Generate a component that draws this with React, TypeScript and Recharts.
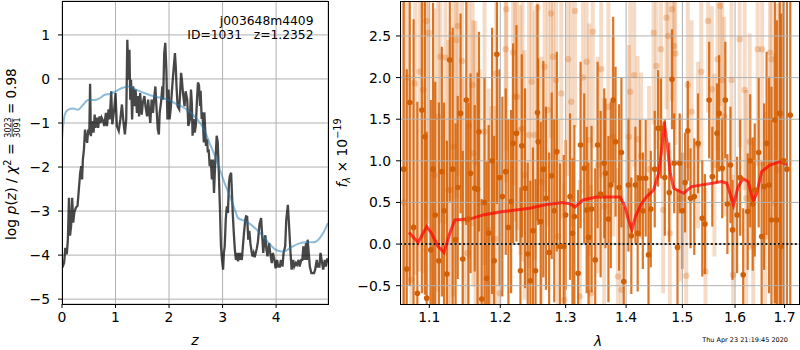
import {
  CartesianGrid,
  ComposedChart,
  ErrorBar,
  Line,
  ReferenceLine,
  Scatter,
  XAxis,
  YAxis,
} from "recharts";

// ---- left panel: log p(z) ----
const zTicks = [0, 1, 2, 3, 4];
const logTicks = [-5, -4, -3, -2, -1, 0, 1];

// [z, log p(z)]
const logPz: [number, number][] = [
  [0.01, -4.28], [0.04, -4.17], [0.06, -3.86], [0.075, -3.86], [0.09, -3.98], [0.11, -3.64],
  [0.13, -2.7], [0.15, -3.56], [0.17, -3.34], [0.19, -2.7], [0.21, -3.26], [0.23, -3.03],
  [0.26, -2.92], [0.29, -2.88], [0.31, -2.58], [0.34, -2.13], [0.36, -1.98], [0.375, -2.28],
  [0.39, -1.83], [0.41, -1.6], [0.43, -1.15], [0.45, -1.34], [0.47, -1.45], [0.49, -1.15],
  [0.51, -1.26], [0.525, -0.11], [0.54, -1.3], [0.56, -0.96], [0.59, -1.22], [0.61, -0.81],
  [0.625, -1.11], [0.65, -0.88], [0.675, -1.11], [0.7, -0.85], [0.72, -1.0], [0.74, -0.88],
  [0.77, -0.96], [0.79, -1.07], [0.82, -0.77], [0.84, -1.07], [0.87, -0.69], [0.89, -0.92],
  [0.92, -0.28], [0.94, -1.03], [0.975, -0.69], [1.0, -0.32], [1.025, -1.07], [1.06, -1.18],
  [1.09, -0.92], [1.12, -0.58], [1.15, -1.0], [1.175, -1.26], [1.2, -0.92], [1.22, 0.89],
  [1.245, -0.02], [1.26, 0.66], [1.275, -0.47], [1.29, -0.02], [1.31, -0.92], [1.33, -0.17],
  [1.36, -0.62], [1.375, -0.24], [1.4, -0.77], [1.42, -0.39], [1.44, -0.85], [1.46, -0.32],
  [1.49, -0.81], [1.51, -0.54], [1.54, -0.39], [1.56, -0.62], [1.59, -0.85], [1.61, -0.47],
  [1.625, -0.69], [1.65, -1.0], [1.675, -0.47], [1.7, -0.77], [1.725, -0.39], [1.745, -0.17],
  [1.76, -0.54], [1.79, -1.15], [1.81, -1.26], [1.825, -0.77], [1.85, -0.54], [1.875, -0.17],
  [1.89, -0.47], [1.91, 0.59], [1.93, 0.82], [1.95, 0.21], [1.97, -0.92], [1.99, -0.24],
  [2.01, -0.92], [2.03, -0.69], [2.06, -0.17], [2.08, 0.14], [2.11, 0.59], [2.125, 0.29],
  [2.14, -0.17], [2.16, -0.62], [2.19, -0.69], [2.21, -0.24], [2.225, 0.14], [2.24, -0.02],
  [2.26, -0.32], [2.29, -0.62], [2.31, -0.28], [2.34, -0.47], [2.36, -1.07], [2.39, -0.92],
  [2.41, -0.24], [2.425, -0.53], [2.44, -1.29], [2.46, -0.91], [2.48, -1.22], [2.5, -1.06],
  [2.52, -0.53], [2.54, -0.08], [2.56, -0.15], [2.58, -0.61], [2.59, -0.27], [2.61, -0.91],
  [2.625, -0.76], [2.65, -1.44], [2.66, -0.76], [2.69, -1.52], [2.71, -1.37], [2.725, -1.67],
  [2.74, -1.6], [2.76, -1.98], [2.78, -1.83], [2.8, -2.28], [2.82, -1.83], [2.84, -2.59],
  [2.86, -1.98], [2.875, -1.67], [2.89, -1.29], [2.91, -1.44], [2.93, -2.13], [2.95, -2.89],
  [2.97, -3.8], [2.99, -4.11], [3.01, -4.33], [3.025, -3.95], [3.04, -3.8], [3.06, -3.19],
  [3.08, -2.89], [3.1, -3.04], [3.12, -2.36], [3.135, -2.21], [3.16, -2.13], [3.175, -2.59],
  [3.19, -3.04], [3.21, -3.5], [3.23, -3.88], [3.25, -4.11], [3.27, -3.95], [3.29, -4.14],
  [3.31, -3.95], [3.325, -4.11], [3.34, -3.95], [3.36, -4.11], [3.38, -3.8], [3.4, -3.5],
  [3.425, -3.19], [3.44, -3.12], [3.46, -3.13], [3.48, -3.65], [3.5, -3.45], [3.52, -3.73],
  [3.54, -3.9], [3.56, -4.03], [3.58, -3.95], [3.6, -4.05], [3.62, -3.95], [3.64, -3.85],
  [3.66, -3.7], [3.69, -3.3], [3.72, -3.16], [3.74, -3.55], [3.76, -3.95], [3.78, -3.7],
  [3.8, -3.55], [3.82, -3.88], [3.84, -4.03], [3.87, -3.73], [3.89, -3.95], [3.92, -4.18],
  [3.94, -3.95], [3.97, -4.11], [3.99, -4.3], [4.02, -4.11], [4.04, -4.26], [4.07, -4.26],
  [4.09, -4.11], [4.12, -4.26], [4.14, -3.95], [4.17, -3.8], [4.19, -3.2], [4.22, -2.86],
  [4.24, -3.27], [4.27, -3.95], [4.29, -4.33], [4.32, -4.11], [4.34, -4.26], [4.37, -4.18],
  [4.39, -4.22], [4.42, -4.11], [4.44, -4.26], [4.47, -4.11], [4.49, -4.11], [4.51, -3.8],
  [4.53, -4.11], [4.56, -3.73], [4.575, -4.11], [4.59, -3.65], [4.61, -3.95], [4.63, -4.26],
  [4.66, -4.41], [4.68, -4.41], [4.71, -4.41], [4.73, -4.33], [4.76, -4.11], [4.78, -4.26],
  [4.81, -4.26], [4.83, -3.95], [4.86, -4.18], [4.88, -4.33], [4.91, -4.11], [4.93, -4.26],
  [4.96, -4.07],
];

// [z, chi2 curve] smooth blue line
const chi2Curve: [number, number][] = [
  [0, -1.38], [0.02, -1.08], [0.05, -0.82], [0.11, -0.7], [0.21, -0.67], [0.3, -0.7],
  [0.39, -0.59], [0.49, -0.48], [0.61, -0.48], [0.7, -0.44], [0.8, -0.36], [0.89, -0.34],
  [0.99, -0.29], [1.11, -0.21], [1.235, -0.17], [1.36, -0.23], [1.52, -0.31], [1.7, -0.39],
  [1.89, -0.44], [2.01, -0.49], [2.14, -0.57], [2.3, -0.67], [2.45, -0.82], [2.58, -1.0],
  [2.67, -1.19], [2.76, -1.46], [2.86, -1.76], [2.95, -2.06], [3.04, -2.37], [3.14, -2.67],
  [3.23, -2.97], [3.29, -3.16], [3.45, -3.24], [3.61, -3.39], [3.76, -3.58], [3.89, -3.76],
  [4.01, -3.89], [4.14, -3.92], [4.26, -3.84], [4.42, -3.74], [4.57, -3.7], [4.7, -3.71],
  [4.79, -3.65], [4.88, -3.5], [4.97, -3.27],
];

// ---- right panel: spectrum ----
const lamTicks = [1.1, 1.2, 1.3, 1.4, 1.5, 1.6, 1.7];
const fluxTicks = [-0.5, 0, 0.5, 1, 1.5, 2, 2.5];

// [lambda, flux, error] first beam (solid)
const beamA: [number, number, number][] = [
  [1.066, 0.9, 2.6], [1.07, -0.3, 2.4], [1.074, 1.7, 2.2], [1.079, 0.2, 2.5], [1.084, -0.59, 2.3],
  [1.09, 1.61, 2.2], [1.094, 1.29, 1.9], [1.0965, -0.65, 2.0], [1.102, -0.07, 1.8], [1.105, 0.9, 2.0],
  [1.108, 0.35, 1.6], [1.113, -0.2, 1.9], [1.117, 0.87, 1.5], [1.12, 0.4, 1.3], [1.124, -0.36, 1.6],
  [1.128, 2.21, 1.7], [1.132, 0.9, 1.7], [1.136, 0.05, 1.4], [1.139, 0.68, 1.1], [1.143, 1.57, 1.2],
  [1.146, -0.18, 1.3], [1.151, 1.73, 1.5], [1.154, 0.3, 1.4], [1.157, 0.85, 1.2], [1.163, 0.67, 1.0],
  [1.167, 0.66, 1.4], [1.169, 1.35, 1.2], [1.173, -0.66, 1.2], [1.177, 0.5, 1.5], [1.18, -0.41, 1.4],
  [1.183, 0.13, 1.3], [1.188, 1.0, 1.6], [1.191, -0.2, 1.5], [1.195, 2.28, 1.8], [1.199, 0.8, 1.3],
  [1.203, 0.57, 1.2], [1.208, 0.87, 1.0], [1.212, 0.2, 1.3], [1.216, 0.51, 1.1], [1.219, 1.21, 1.2],
  [1.224, 1.33, 1.3], [1.23, -0.32, 1.0], [1.232, 1.18, 1.1], [1.237, 0.67, 1.2], [1.241, -0.12, 1.1],
  [1.245, -0.44, 1.2], [1.249, 0.16, 1.0], [1.253, -0.32, 1.1], [1.256, 1.58, 1.3], [1.257, 1.23, 1.0],
  [1.261, 0.27, 1.2], [1.265, 0.9, 1.3], [1.269, 0.55, 1.1], [1.274, -0.1, 1.2], [1.278, 0.82, 1.0],
  [1.282, 0.4, 1.1], [1.286, 1.11, 1.2], [1.291, -0.03, 1.0], [1.297, -0.03, 1.1], [1.3, 0.35, 0.9],
  [1.307, 0.57, 1.0], [1.311, 0.13, 0.9], [1.314, 0.33, 1.1], [1.32, -0.35, 1.0], [1.324, 1.19, 1.0],
  [1.33, 0.91, 0.9], [1.334, 0.41, 1.0], [1.337, 0.08, 0.9], [1.342, 0.42, 1.0], [1.348, -0.19, 1.1],
  [1.352, 1.19, 1.0], [1.357, 0.6, 1.0], [1.363, 0.97, 0.9], [1.365, 0.85, 0.9], [1.37, 0.3, 1.0],
  [1.374, 0.71, 1.0], [1.378, 1.73, 1.0], [1.382, 1.23, 0.9], [1.388, 0.68, 1.0], [1.392, 1.1, 0.9],
  [1.396, -0.45, 0.9], [1.404, 0.71, 0.8], [1.409, 0.1, 0.7], [1.416, 0.71, 0.7], [1.42, 0.13, 0.7],
  [1.424, 0.79, 0.7], [1.429, 0.4, 0.7], [1.434, 0.79, 0.7], [1.439, -0.13, 0.8], [1.443, 0.42, 0.7],
  [1.45, 0.9, 0.7], [1.456, 1.39, 0.7], [1.461, 1.39, 0.6], [1.468, 0.8, 0.7], [1.476, 0.62, 0.6],
  [1.481, 1.98, 0.6], [1.485, 0.97, 0.6], [1.491, -0.04, 0.7], [1.495, 0.97, 0.6], [1.5, 0.4, 0.7],
  [1.505, 0.74, 0.6], [1.51, 1.36, 0.6], [1.515, 0.55, 0.6], [1.522, 0.57, 0.7], [1.529, 1.21, 0.6],
  [1.537, 0.31, 0.7], [1.542, 0.24, 0.6], [1.55, 1.73, 0.7], [1.556, 0.81, 0.6], [1.565, 1.33, 0.6],
  [1.569, 1.57, 0.7], [1.575, 0.91, 0.6], [1.581, 1.73, 0.7], [1.585, 0.48, 0.6], [1.591, 0.95, 0.7],
  [1.595, 0.17, 0.6], [1.604, 0.35, 0.7], [1.61, 0.8, 0.7], [1.616, -0.37, 0.8], [1.625, 0.39, 0.7],
  [1.63, 1.0, 0.8], [1.635, 0.48, 0.8], [1.639, 0.65, 0.8], [1.647, 1.1, 0.9], [1.653, 0.09, 0.9],
  [1.658, 0.69, 1.0], [1.663, 1.21, 1.1], [1.668, 0.71, 1.3], [1.673, 0.29, 1.6], [1.68, 1.49, 2.2],
  [1.684, 0.29, 2.4], [1.69, 1.57, 2.6], [1.693, -0.03, 2.8], [1.698, 1.0, 2.8], [1.705, 0.9, 2.8],
  [1.712, 1.55, 2.9],
];

// [lambda, flux, error] second beam (faint)
const beamB: [number, number, number][] = [
  [1.066, 0.5, 2.8], [1.071, 2.0, 2.5], [1.076, -0.43, 2.4], [1.081, 1.93, 2.3], [1.087, 2.07, 2.4],
  [1.092, 1.85, 2.2], [1.096, 2.68, 2.4], [1.099, 2.54, 2.3], [1.107, 0.83, 2.0], [1.112, 1.53, 2.1],
  [1.115, 2.25, 2.0], [1.122, 2.24, 2.0], [1.126, 0.65, 1.8], [1.129, 0.65, 1.9], [1.133, 1.17, 1.8],
  [1.137, 2.45, 1.9], [1.139, 2.62, 1.8], [1.145, 2.2, 1.7], [1.147, 0.29, 1.7], [1.152, -0.11, 1.8],
  [1.155, 1.42, 1.6], [1.16, 1.91, 1.7], [1.161, 1.09, 1.6], [1.164, 0.98, 1.7], [1.17, 0.5, 1.6],
  [1.177, 1.35, 1.6], [1.183, 0.17, 1.7], [1.187, 0.06, 1.6], [1.193, 0.06, 1.6], [1.194, 2.05, 1.7],
  [1.199, -0.59, 1.6], [1.208, 2.34, 1.6], [1.209, 2.82, 1.7], [1.219, 2.3, 1.6], [1.222, 1.77, 1.5],
  [1.225, 1.77, 1.6], [1.23, 1.37, 1.5], [1.233, 1.39, 1.6], [1.236, 0.83, 1.5], [1.243, 1.31, 1.6],
  [1.247, 1.95, 1.5], [1.252, 1.31, 1.5], [1.256, 2.84, 1.6], [1.262, 0.75, 1.5], [1.267, 2.13, 1.5],
  [1.272, 1.61, 1.4], [1.277, 2.77, 1.5], [1.28, 2.25, 1.4], [1.285, 1.97, 1.5], [1.288, 0.09, 1.4],
  [1.293, 1.81, 1.5], [1.298, -0.67, 1.4], [1.304, 2.22, 1.4], [1.309, 1.71, 1.5], [1.315, 2.8, 1.4],
  [1.323, -0.63, 1.4], [1.328, 2.0, 1.4], [1.334, 2.19, 1.3], [1.338, 1.25, 1.4], [1.341, -0.59, 1.3],
  [1.344, 2.55, 1.4], [1.352, 0.95, 1.3], [1.358, 2.1, 1.3], [1.363, 0.45, 1.3], [1.37, 1.65, 1.3],
  [1.378, 1.29, 1.2], [1.386, -0.39, 1.3], [1.392, -0.55, 1.2], [1.405, 1.29, 1.1], [1.407, 1.83, 1.1],
  [1.414, 2.03, 1.1], [1.42, 1.26, 1.0], [1.426, 1.06, 1.0], [1.44, 0.9, 1.0], [1.448, 2.54, 1.1],
  [1.453, 2.14, 1.0], [1.461, 2.34, 1.1], [1.465, 0.41, 1.0], [1.471, 2.72, 1.1], [1.474, 2.5, 1.0],
  [1.477, 0.13, 1.0], [1.481, 2.82, 1.1], [1.485, 2.38, 1.0], [1.487, 2.29, 1.1], [1.497, 0.55, 1.0],
  [1.507, -0.38, 1.1], [1.51, 1.91, 1.0], [1.517, 1.59, 1.1], [1.529, 1.19, 1.0], [1.535, 2.07, 1.1],
  [1.543, -0.33, 1.0], [1.548, 2.68, 1.1], [1.555, 1.86, 1.0], [1.56, 0.95, 1.1], [1.566, 2.22, 1.1],
  [1.571, 2.86, 1.2], [1.575, 1.97, 1.1], [1.579, 1.53, 1.2], [1.593, 1.97, 1.2], [1.596, -0.37, 1.2],
  [1.609, 2.46, 1.3], [1.619, 1.85, 1.2], [1.622, 0.55, 1.3], [1.629, 1.23, 1.3], [1.636, -0.02, 1.3],
  [1.645, 2.34, 1.4], [1.654, 2.34, 1.4], [1.66, 0.09, 1.5], [1.67, 2.3, 1.6], [1.673, 2.22, 1.7],
  [1.68, 0.49, 1.8], [1.686, 0.89, 2.0], [1.692, 1.57, 2.1],
];

// [lambda, flux] best-fit model
const model: [number, number][] = [
  [1.073, 0.14], [1.085, 0.02], [1.0965, 0.21], [1.103, 0.13], [1.112, -0.03], [1.12, -0.1],
  [1.128, 0.13], [1.135, 0.29], [1.156, 0.3], [1.175, 0.35], [1.199, 0.385], [1.244, 0.43],
  [1.27, 0.475], [1.296, 0.5], [1.308, 0.48], [1.315, 0.445], [1.328, 0.53], [1.35, 0.565],
  [1.39, 0.565], [1.398, 0.45], [1.404, 0.29], [1.41, 0.17], [1.416, 0.33], [1.427, 0.49],
  [1.436, 0.57], [1.448, 0.65], [1.457, 0.85], [1.463, 1.17], [1.467, 1.47], [1.472, 1.21],
  [1.478, 0.85], [1.484, 0.67], [1.502, 0.61], [1.517, 0.69], [1.5455, 0.72], [1.574, 0.75],
  [1.584, 0.73], [1.59, 0.61], [1.597, 0.47], [1.606, 0.69], [1.616, 0.785], [1.626, 0.75],
  [1.636, 0.51], [1.643, 0.61], [1.653, 0.87], [1.67, 0.95], [1.691, 0.99], [1.705, 0.95],
];

const ORANGE = "#d55e00";
const GRID = "#b0b0b0";
const FONT = "DejaVu Sans, sans-serif";

const minus = (s: string) => s.replace("-", "\u2212");

const pzData = logPz.map(([z, v]) => ({ z, v }));
const chi2Data = chi2Curve.map(([z, v]) => ({ z, v }));
const beamAData = beamA.map(([lam, f, err]) => ({ lam, f, err }));
const beamBData = beamB.map(([lam, f, err]) => ({ lam, f, err }));
const modelData = model.map(([lam, f]) => ({ lam, f }));

const tickStyle = { fill: "#000", fontSize: 13.9, fontFamily: FONT };

const solidDot = (p: any) => <circle cx={p.cx} cy={p.cy} r={2.8} fill="#d15f06" />;
const faintDot = (p: any) => <circle cx={p.cx} cy={p.cy} r={3.2} fill="rgba(213,94,0,0.26)" />;

const SPEC_W = 460;
const SPEC_H = 350;
const SPEC_MARGIN = { top: 1, right: 1, bottom: 0, left: 0 };

// both spectrum layers share these axes so the scales line up exactly
function specAxes(showTicks: boolean) {
  return [
    <XAxis
      key="x"
      type="number"
      dataKey="lam"
      scale="log"
      domain={[1.0612, 1.7304]}
      ticks={lamTicks}
      allowDataOverflow
      height={46}
      axisLine={false}
      tickLine={showTicks ? { stroke: "#000" } : false}
      tickSize={4}
      tickMargin={4}
      tick={showTicks ? tickStyle : false}
      tickFormatter={(v) => Number(v).toFixed(1)}
    />,
    <YAxis
      key="y"
      type="number"
      dataKey="f"
      domain={[-0.72, 2.92]}
      ticks={fluxTicks}
      allowDataOverflow
      width={60}
      axisLine={false}
      tickLine={showTicks ? { stroke: "#000" } : false}
      tickSize={4}
      tickMargin={5}
      tick={showTicks ? tickStyle : false}
      tickFormatter={(v) => minus(Number(v).toFixed(1))}
    />,
  ];
}

const frame = (left: number, width: number) => (
  <div
    style={{
      position: "absolute",
      left,
      top: 1,
      width,
      height: 304,
      border: "1px solid #000",
      boxSizing: "border-box",
      pointerEvents: "none",
    }}
  />
);

export default function App() {
  return (
    <div
      style={{
        position: "absolute",
        left: 0,
        top: 0,
        width: 800,
        height: 350,
        background: "#fff",
        fontFamily: FONT,
        overflow: "hidden",
      }}
    >
      <div style={{ position: "absolute", left: 0, top: 0 }}>
        <ComposedChart width={330} height={350} margin={{ top: 1, right: 2, bottom: 0, left: 0 }}>
          <CartesianGrid stroke={GRID} strokeWidth={1} />
          <XAxis
            type="number"
            dataKey="z"
            domain={[0, 4.97]}
            ticks={zTicks}
            allowDataOverflow
            height={46}
            axisLine={false}
            tickLine={{ stroke: "#000" }}
            tickSize={4}
            tickMargin={4}
            tick={tickStyle}
          />
          <YAxis
            type="number"
            domain={[-5.11, 1.77]}
            ticks={logTicks}
            allowDataOverflow
            width={62}
            axisLine={false}
            tickLine={{ stroke: "#000" }}
            tickSize={4}
            tickMargin={8}
            tick={tickStyle}
            tickFormatter={(v) => minus(String(v))}
          />
          <Line
            data={pzData}
            dataKey="v"
            stroke="#000"
            strokeOpacity={0.72}
            strokeWidth={2.3}
            dot={false}
            isAnimationActive={false}
          />
          <Line
            data={chi2Data}
            dataKey="v"
            type="monotone"
            stroke="#1f77b4"
            strokeOpacity={0.5}
            strokeWidth={2}
            dot={false}
            isAnimationActive={false}
          />
        </ComposedChart>
      </div>
      {frame(62, 267)}

      {/* spectrum: axes layer */}
      <div style={{ position: "absolute", left: 340, top: 0 }}>
        <ComposedChart width={SPEC_W} height={SPEC_H} margin={SPEC_MARGIN}>
          {specAxes(true)}
        </ComposedChart>
      </div>
      {/* spectrum: data layer, clipped to the plot box */}
      <div
        style={{
          position: "absolute",
          left: 340,
          top: 0,
          width: SPEC_W,
          height: SPEC_H,
          clipPath: "inset(1px 1px 46px 60px)",
        }}
      >
        <ComposedChart width={SPEC_W} height={SPEC_H} margin={SPEC_MARGIN}>
          {specAxes(false)}
          <Scatter data={beamBData} shape={faintDot} isAnimationActive={false}>
            <ErrorBar dataKey="err" direction="y" width={0} stroke="rgba(213,94,0,0.22)" strokeWidth={4} />
          </Scatter>
          <Scatter data={beamAData} shape={solidDot} isAnimationActive={false}>
            <ErrorBar dataKey="err" direction="y" width={0} stroke={ORANGE} strokeOpacity={0.85} strokeWidth={2.2} />
          </Scatter>
          {fluxTicks.map((t) => (
            <ReferenceLine key={`y${t}`} y={t} stroke={GRID} strokeWidth={1} />
          ))}
          {lamTicks.map((t) => (
            <ReferenceLine key={`x${t}`} x={t} stroke={GRID} strokeWidth={1} />
          ))}
          <ReferenceLine y={0} stroke="#000" strokeOpacity={0.85} strokeWidth={2} strokeDasharray="2 2.2" />
          <Line
            data={modelData}
            dataKey="f"
            stroke="#ff0000"
            strokeOpacity={0.7}
            strokeWidth={3}
            dot={false}
            isAnimationActive={false}
          />
        </ComposedChart>
      </div>
      {frame(400, 400)}

      <svg
        width={800}
        height={350}
        style={{ position: "absolute", left: 0, top: 0, pointerEvents: "none" }}
        fontFamily={FONT}
      >
        <text x={313.5} y={25} fontSize={12.3} textAnchor="end" fill="#000">
          j003648m4409
        </text>
        <text x={313.5} y={38.5} fontSize={12.3} textAnchor="end" fill="#000" style={{ whiteSpace: "pre" }}>
          {"ID=1031   z=1.2352"}
        </text>

        <g transform="translate(16,155) rotate(-90)">
          <text x={-85} y={0} fontSize={13.9} fill="#000">
            log <tspan fontStyle="italic">p</tspan>(<tspan fontStyle="italic">z</tspan>) /{" "}
            <tspan fontStyle="italic">χ</tspan>
            <tspan fontSize={9.7} dy={-5.5}>2</tspan>
            <tspan dy={5.5}> =</tspan>
          </text>
          <text x={27.5} y={-5.5} fontSize={8} textAnchor="middle" fill="#000">
            3023
          </text>
          <line x1={18.5} x2={36.5} y1={-3.8} y2={-3.8} stroke="#000" strokeWidth={0.7} />
          <text x={27.5} y={3.5} fontSize={8} textAnchor="middle" fill="#000">
            3091
          </text>
          <text x={41} y={0} fontSize={13.5} fill="#000">
            = 0.98
          </text>
        </g>
        <text x={195} y={345} fontSize={13.9} fontStyle="italic" textAnchor="middle" fill="#000">
          z
        </text>

        <g transform="translate(347,153) rotate(-90)">
          <text x={0} y={0} fontSize={13.9} textAnchor="middle" fill="#000">
            <tspan fontStyle="italic">f</tspan>
            <tspan fontSize={9.7} fontStyle="italic" dy={3}>λ</tspan>
            <tspan dy={-3}> × 10</tspan>
            <tspan fontSize={9.7} dy={-6}>−19</tspan>
          </text>
        </g>
        <text x={598} y={346} fontSize={13.9} fontStyle="italic" textAnchor="middle" fill="#000">
          λ
        </text>

        <text x={788} y={342} fontSize={6.5} textAnchor="end" fill="#000">
          Thu Apr 23 21:19:45 2020
        </text>
      </svg>
    </div>
  );
}
